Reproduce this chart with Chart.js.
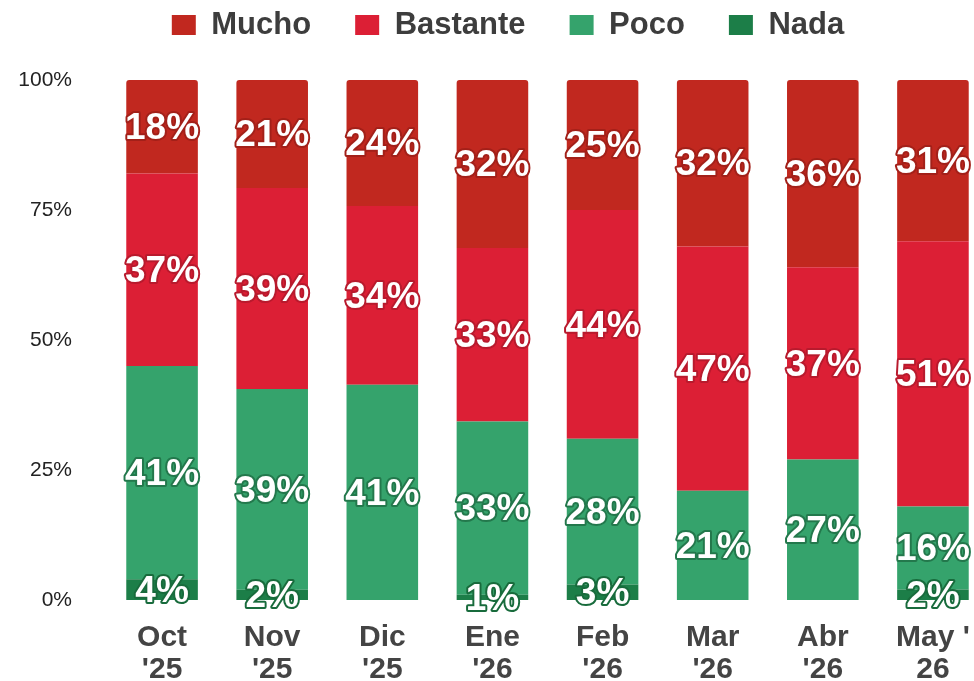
<!DOCTYPE html>
<html>
<head>
<meta charset="utf-8">
<script src="https://cdn.jsdelivr.net/npm/chart.js"></script>
<style>
  html, body { margin: 0; padding: 0; background: #fff; overflow: hidden; }
  #wrap { width: 1016px; height: 681px; }
</style>
</head>
<body>
<div id="wrap"><canvas id="myChart" width="1016" height="681"></canvas></div>
<script>
// datos
var meses = [['Oct', "'25"], ['Nov', "'25"], ['Dic', "'25"], ['Ene', "'26"], ['Feb', "'26"], ['Mar', "'26"], ['Abr', "'26"], ["May '", '26']];
var mucho    = [18, 21, 24, 32, 25, 32, 36, 31];
var bastante = [37, 39, 34, 33, 44, 47, 37, 51];
var poco     = [41, 39, 41, 33, 28, 21, 27, 16];
var nada     = [4, 2, 0, 1, 3, 0, 0, 2];
var yTicks   = [0, 25, 50, 75, 100];

// cada barra se reparte sobre el 100%
var totales = meses.map(function (m, i) { return mucho[i] + bastante[i] + poco[i] + nada[i]; });
function pct(arr) {
  return arr.map(function (v, i) { return v / totales[i] * 100; });
}

// etiquetas blancas con contorno
var etiquetas = {
  id: 'etiquetas',
  afterDatasetsDraw: function (chart) {
    var ctx = chart.ctx;
    ctx.save();
    ctx.font = 'bold 37px "Liberation Sans", Arial, sans-serif';
    ctx.textAlign = 'center';
    ctx.textBaseline = 'middle';
    ctx.lineJoin = 'round';
    ctx.lineWidth = 4;
    chart.data.datasets.forEach(function (ds, i) {
      var meta = chart.getDatasetMeta(i);
      meta.data.forEach(function (bar, j) {
        var v = ds.valores[j];
        if (!v) return;
        var p = bar.getProps(['x', 'y', 'base'], true);
        var y = (p.y + p.base) / 2 + 2;
        ctx.strokeStyle = ds.contorno;
        ctx.strokeText(v + '%', p.x, y);
        ctx.fillStyle = '#ffffff';
        ctx.fillText(v + '%', p.x, y);
      });
    });
    ctx.restore();
  }
};

// espacio extra debajo de la leyenda y leyenda centrada sobre las barras
var espacioLeyenda = {
  id: 'espacioLeyenda',
  beforeInit: function (chart) {
    var fit = chart.legend.fit;
    chart.legend.fit = function () {
      fit.bind(chart.legend)();
      this.height += 29.5;
    };
  },
  afterLayout: function (chart) {
    chart.legend.left += 7;
    chart.legend.right += 7;
  }
};

var ctx = document.getElementById('myChart').getContext('2d');
var myChart = new Chart(ctx, {
  type: 'bar',
  data: {
    labels: meses,
    datasets: [
      { label: 'Nada', data: pct(nada), valores: nada, backgroundColor: '#1c7e48', contorno: '#186b3c' },
      { label: 'Poco', data: pct(poco), valores: poco, backgroundColor: '#35a36c', contorno: '#23784c' },
      { label: 'Bastante', data: pct(bastante), valores: bastante, backgroundColor: '#dc1f35', contorno: '#b81a2d' },
      { label: 'Mucho', data: pct(mucho), valores: mucho, backgroundColor: '#c1281f', contorno: '#a32019',
        borderRadius: { topLeft: 3, topRight: 3 } }
    ]
  },
  options: {
    responsive: false,
    animation: false,
    layout: { padding: { top: -34.5, left: 14, right: 28, bottom: 0 } },
    datasets: {
      bar: { categoryPercentage: 1, barPercentage: 0.65, borderSkipped: 'start' }
    },
    plugins: {
      tooltip: { enabled: false },
      legend: {
        position: 'top',
        reverse: true,
        labels: {
          boxWidth: 24,
          boxHeight: 20,
          padding: 44,
          color: '#3d3d3d',
          font: { family: '"Liberation Sans", Arial, sans-serif', size: 31, weight: 'bold' }
        }
      }
    },
    scales: {
      x: {
        stacked: true,
        grid: { display: false, drawTicks: false },
        border: { display: false },
        ticks: {
          autoSkip: false,
          maxRotation: 0,
          padding: 22,
          color: '#444444',
          font: { family: '"Liberation Sans", Arial, sans-serif', size: 30, weight: 'bold', lineHeight: 1.07 }
        },
        afterFit: function (scale) { scale.height = 81; }
      },
      y: {
        stacked: true,
        min: 0,
        max: 100,
        grid: { display: false, drawTicks: false },
        border: { display: false },
        afterBuildTicks: function (scale) {
          scale.ticks = yTicks.map(function (v) { return { value: v }; });
        },
        ticks: {
          padding: 35,
          color: '#222222',
          font: { family: '"Liberation Sans", Arial, sans-serif', size: 21 },
          callback: function (v) { return v + '%'; }
        },
        afterFit: function (scale) { scale.width = 93; }
      }
    }
  },
  plugins: [etiquetas, espacioLeyenda]
});
</script>
</body>
</html>
